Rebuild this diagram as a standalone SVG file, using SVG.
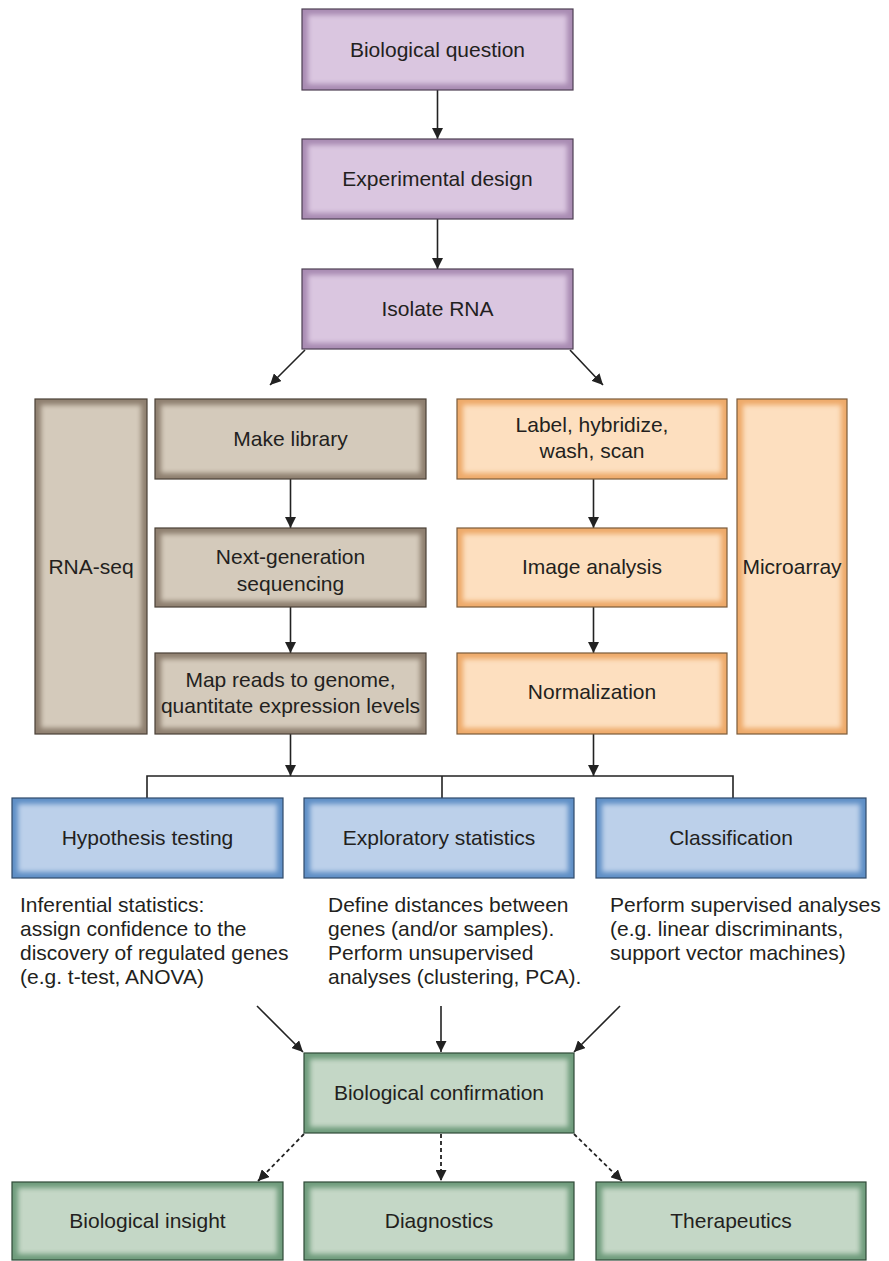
<svg xmlns="http://www.w3.org/2000/svg" width="889" height="1261" viewBox="0 0 889 1261">
<style>
text{font-family:"Liberation Sans",Arial,sans-serif;font-size:21px;fill:#231f20}
.c{text-anchor:middle}
.ln{stroke:#222;stroke-width:1.6;fill:none}
.dl{stroke:#222;stroke-width:1.8;fill:none;stroke-dasharray:4 3}
.pe{fill:#a98cb3;stroke:#4d3f52;stroke-width:1.2}
.pi{fill:#dac6e0}
.be{fill:#8f8070;stroke:#4a4036;stroke-width:1.2}
.bi{fill:#d4cabb}
.oe{fill:#eeaa6a;stroke:#7a5a3a;stroke-width:1.2}
.oi{fill:#fddfbf}
.ue{fill:#5f8fc6;stroke:#2f4a6a;stroke-width:1.2}
.ui{fill:#bcd0ea}
.ge{fill:#6f9c7c;stroke:#2f4a38;stroke-width:1.2}
.gi{fill:#c4d7c6}
</style>
<defs>
<filter id="soft" x="-10%" y="-20%" width="120%" height="140%"><feGaussianBlur stdDeviation="2.5"/></filter>
<marker id="ah" viewBox="0 0 10 10" refX="10" refY="5" markerWidth="11" markerHeight="11" markerUnits="userSpaceOnUse" orient="auto"><path d="M0,0 L10,5 L0,10 z" fill="#222"/></marker>
</defs>

<g id="connectors">
<line class="ln" x1="437.5" y1="90" x2="437.5" y2="139" marker-end="url(#ah)"/>
<line class="ln" x1="437.5" y1="219" x2="437.5" y2="269" marker-end="url(#ah)"/>
<line class="ln" x1="305" y1="350" x2="270" y2="385" marker-end="url(#ah)"/>
<line class="ln" x1="570" y1="350" x2="603" y2="385" marker-end="url(#ah)"/>
<line class="ln" x1="290.5" y1="479" x2="290.5" y2="528" marker-end="url(#ah)"/>
<line class="ln" x1="290.5" y1="607" x2="290.5" y2="653" marker-end="url(#ah)"/>
<line class="ln" x1="290.5" y1="734" x2="290.5" y2="776" marker-end="url(#ah)"/>
<line class="ln" x1="593.5" y1="479" x2="593.5" y2="528" marker-end="url(#ah)"/>
<line class="ln" x1="593.5" y1="607" x2="593.5" y2="653" marker-end="url(#ah)"/>
<line class="ln" x1="593.5" y1="734" x2="593.5" y2="776" marker-end="url(#ah)"/>
<path class="ln" d="M147,798 V776 H733 V798 M442,776 V798"/>
<line class="ln" x1="257" y1="1006" x2="303" y2="1052" marker-end="url(#ah)"/>
<line class="ln" x1="441" y1="1006" x2="441" y2="1052" marker-end="url(#ah)"/>
<line class="ln" x1="620" y1="1006" x2="574" y2="1052" marker-end="url(#ah)"/>
<line class="dl" x1="304" y1="1134" x2="258" y2="1181" marker-end="url(#ah)"/>
<line class="dl" x1="441" y1="1134" x2="441" y2="1181" marker-end="url(#ah)"/>
<line class="dl" x1="574" y1="1134" x2="622" y2="1181" marker-end="url(#ah)"/>
</g>

<g id="n-question"><rect class="pe" x="302" y="9" width="271" height="81"/><rect class="pi" x="308" y="15" width="259" height="69" filter="url(#soft)"/><text class="c" x="437.5" y="56.5">Biological question</text></g>
<g id="n-design"><rect class="pe" x="302" y="139" width="271" height="80"/><rect class="pi" x="308" y="145" width="259" height="68" filter="url(#soft)"/><text class="c" x="437.5" y="186">Experimental design</text></g>
<g id="n-isolate"><rect class="pe" x="302" y="269" width="271" height="80"/><rect class="pi" x="308" y="275" width="259" height="68" filter="url(#soft)"/><text class="c" x="437.5" y="316">Isolate RNA</text></g>

<g id="n-rnaseq"><rect class="be" x="35" y="399" width="112" height="335"/><rect class="bi" x="41" y="405" width="100" height="323" filter="url(#soft)"/><text class="c" x="91" y="574">RNA-seq</text></g>
<g id="n-library"><rect class="be" x="155" y="399" width="271" height="80"/><rect class="bi" x="161" y="405" width="259" height="68" filter="url(#soft)"/><text class="c" x="290.5" y="446">Make library</text></g>
<g id="n-ngs"><rect class="be" x="155" y="528" width="271" height="79"/><rect class="bi" x="161" y="534" width="259" height="67" filter="url(#soft)"/><text class="c" x="290.5" y="564">Next-generation</text><text class="c" x="290.5" y="591">sequencing</text></g>
<g id="n-map"><rect class="be" x="155" y="653" width="271" height="81"/><rect class="bi" x="161" y="659" width="259" height="69" filter="url(#soft)"/><text class="c" x="290.5" y="687">Map reads to genome,</text><text class="c" x="290.5" y="713">quantitate expression levels</text></g>

<g id="n-label"><rect class="oe" x="457" y="399" width="270" height="80"/><rect class="oi" x="463" y="405" width="258" height="68" filter="url(#soft)"/><text class="c" x="592" y="432">Label, hybridize,</text><text class="c" x="592" y="458">wash, scan</text></g>
<g id="n-image"><rect class="oe" x="457" y="528" width="270" height="79"/><rect class="oi" x="463" y="534" width="258" height="67" filter="url(#soft)"/><text class="c" x="592" y="574">Image analysis</text></g>
<g id="n-norm"><rect class="oe" x="457" y="653" width="270" height="81"/><rect class="oi" x="463" y="659" width="258" height="69" filter="url(#soft)"/><text class="c" x="592" y="699">Normalization</text></g>
<g id="n-microarray"><rect class="oe" x="737" y="399" width="110" height="335"/><rect class="oi" x="743" y="405" width="98" height="323" filter="url(#soft)"/><text class="c" x="792" y="574">Microarray</text></g>

<g id="n-hyp"><rect class="ue" x="12" y="798" width="271" height="80"/><rect class="ui" x="18" y="804" width="259" height="68" filter="url(#soft)"/><text class="c" x="147.5" y="845">Hypothesis testing</text></g>
<g id="n-expl"><rect class="ue" x="304" y="798" width="270" height="80"/><rect class="ui" x="310" y="804" width="258" height="68" filter="url(#soft)"/><text class="c" x="439" y="845">Exploratory statistics</text></g>
<g id="n-class"><rect class="ue" x="596" y="798" width="270" height="80"/><rect class="ui" x="602" y="804" width="258" height="68" filter="url(#soft)"/><text class="c" x="731" y="845">Classification</text></g>

<g id="t-hyp"><text x="20" y="912">Inferential statistics:</text><text x="20" y="936">assign confidence to the</text><text x="20" y="960">discovery of regulated genes</text><text x="20" y="984">(e.g. t-test, ANOVA)</text></g>
<g id="t-expl"><text x="328" y="912">Define distances between</text><text x="328" y="936">genes (and/or samples).</text><text x="328" y="960">Perform unsupervised</text><text x="328" y="984">analyses (clustering, PCA).</text></g>
<g id="t-class"><text x="610" y="912">Perform supervised analyses</text><text x="610" y="936">(e.g. linear discriminants,</text><text x="610" y="960">support vector machines)</text></g>

<g id="n-confirm"><rect class="ge" x="304" y="1053" width="270" height="80"/><rect class="gi" x="310" y="1059" width="258" height="68" filter="url(#soft)"/><text class="c" x="439" y="1100">Biological confirmation</text></g>
<g id="n-insight"><rect class="ge" x="12" y="1182" width="271" height="78"/><rect class="gi" x="18" y="1188" width="259" height="66" filter="url(#soft)"/><text class="c" x="147.5" y="1228">Biological insight</text></g>
<g id="n-diag"><rect class="ge" x="304" y="1182" width="270" height="78"/><rect class="gi" x="310" y="1188" width="258" height="66" filter="url(#soft)"/><text class="c" x="439" y="1228">Diagnostics</text></g>
<g id="n-thera"><rect class="ge" x="596" y="1182" width="270" height="78"/><rect class="gi" x="602" y="1188" width="258" height="66" filter="url(#soft)"/><text class="c" x="731" y="1228">Therapeutics</text></g>
</svg>
